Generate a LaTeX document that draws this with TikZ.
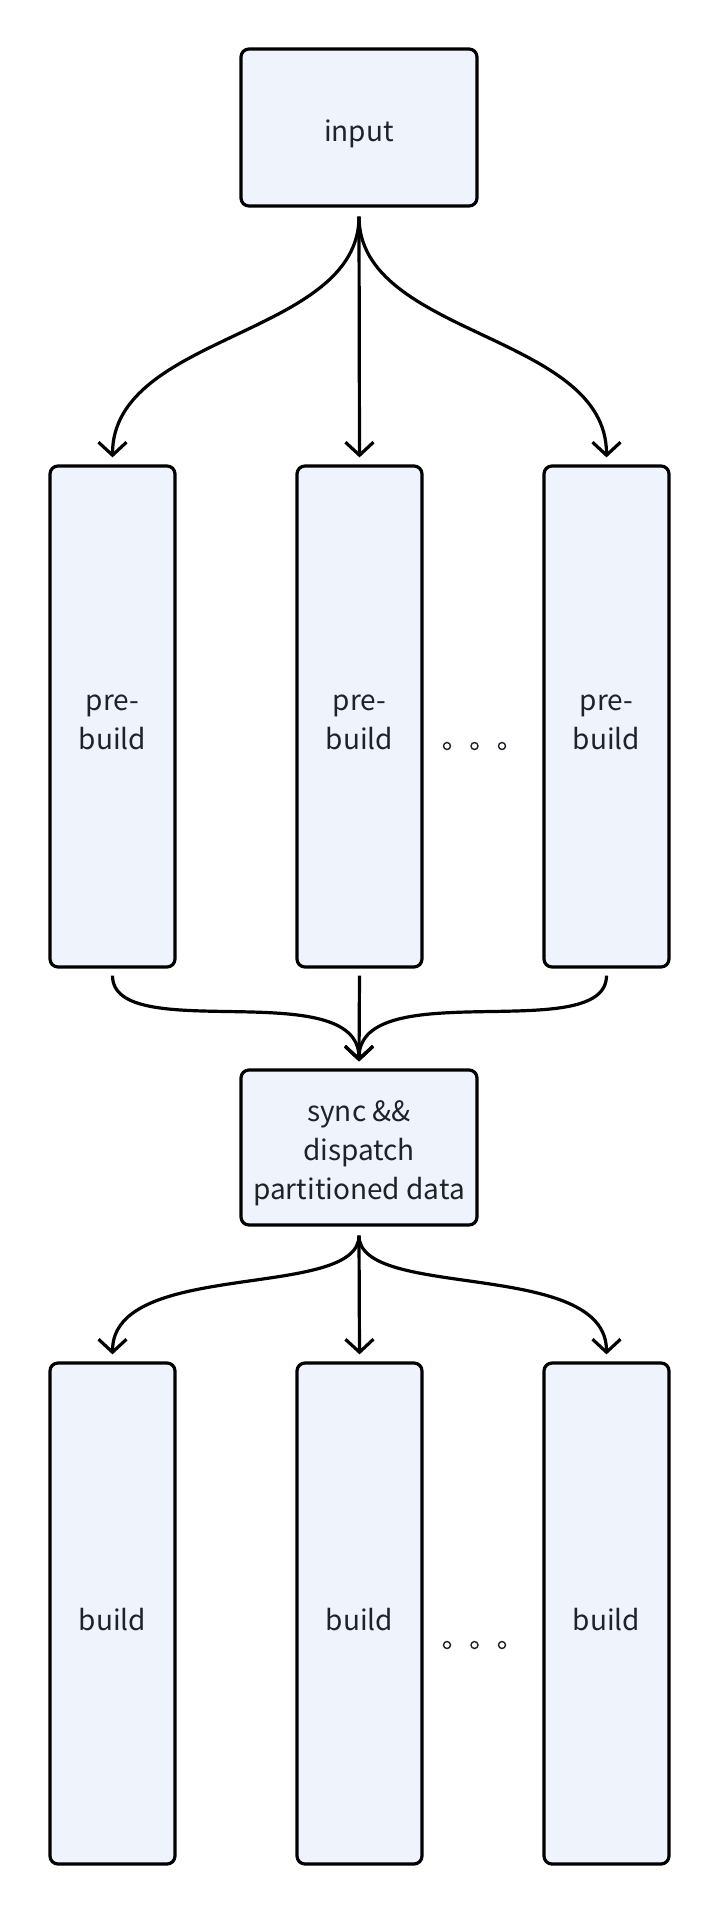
\documentclass[tikz,border=0pt]{standalone}
\usepackage{fontspec}
\newfontfamily\cjk{Noto Sans CJK SC}
\usetikzlibrary{arrows.meta}
\definecolor{boxfill}{HTML}{EFF3FB}
\definecolor{txt}{HTML}{1F2329}
\tikzset{
  box/.style={draw=black, line width=3.2pt, rounded corners=8pt, fill=boxfill, inner sep=0pt},
  lbl/.style={text=txt, font=\cjk\fontsize{28}{39}\selectfont, align=center, inner sep=0pt, yshift=-6pt},
  txt/.style={label={[lbl]center:{#1}}},
  conn/.style={draw=black, line width=3.2pt, -{Straight Barb[length=13pt,width=28pt,line width=3.2pt]}},
  dot/.style={draw=txt, line width=1.4pt, circle, minimum size=7pt, inner sep=0pt},
}
\begin{document}
\begin{tikzpicture}[x=1pt,y=-1pt]
\fill[white] (0,0) rectangle (720,1918);
\useasboundingbox (0,0) rectangle (720,1918);

\node[box, minimum width=236pt, minimum height=157pt, txt={input}] (in) at (359,127.5) {};

\node[box, minimum width=125pt, minimum height=501pt, txt={pre-\\build}] (p1) at (112.5,716.5) {};
\node[box, minimum width=125pt, minimum height=501pt, txt={pre-\\build}] (p2) at (359.5,716.5) {};
\node[box, minimum width=125pt, minimum height=501pt, txt={pre-\\build}] (p3) at (606.5,716.5) {};

\node[box, minimum width=236pt, minimum height=155pt, txt={sync \&\&\\dispatch\\partitioned data}] (sy) at (359,1147.5) {};

\node[box, minimum width=125pt, minimum height=501pt, txt={build}] (b1) at (112.5,1613.5) {};
\node[box, minimum width=125pt, minimum height=501pt, txt={build}] (b2) at (359.5,1613.5) {};
\node[box, minimum width=125pt, minimum height=501pt, txt={build}] (b3) at (606.5,1613.5) {};

\node[dot] (d1) at (447,746) {};
\node[dot] (d2) at (474.5,746) {};
\node[dot] (d3) at (502,746) {};
\node[dot] (e1) at (447,1645) {};
\node[dot] (e2) at (474.5,1645) {};
\node[dot] (e3) at (502,1645) {};

% input -> pre-build
\coordinate (inS) at ([yshift=-9pt]in.south);
\coordinate (p1N) at ([yshift=7pt]p1.north);
\coordinate (p2N) at ([yshift=7pt]p2.north);
\coordinate (p3N) at ([yshift=7pt]p3.north);
\draw[conn] (inS) .. controls ([yshift=-120pt]inS) and ([yshift=124pt]p1N) .. (p1N);
\draw[conn] (inS) -- (p2N);
\draw[conn] (inS) .. controls ([yshift=-120pt]inS) and ([yshift=124pt]p3N) .. (p3N);

% pre-build -> sync
\coordinate (syN) at ([yshift=7pt]sy.north);
\coordinate (p1S) at ([yshift=-7pt]p1.south);
\coordinate (p2S) at ([yshift=-7pt]p2.south);
\coordinate (p3S) at ([yshift=-7pt]p3.south);
\draw[conn] (p1S) .. controls ([yshift=-71pt]p1S) and ([yshift=88pt]syN) .. (syN);
\draw[conn] (p2S) -- (syN);
\draw[conn] (p3S) .. controls ([yshift=-71pt]p3S) and ([yshift=88pt]syN) .. (syN);

% sync -> build
\coordinate (syS) at ([yshift=-9pt]sy.south);
\coordinate (b1N) at ([yshift=7pt]b1.north);
\coordinate (b2N) at ([yshift=7pt]b2.north);
\coordinate (b3N) at ([yshift=7pt]b3.north);
\draw[conn] (syS) .. controls ([yshift=-65pt]syS) and ([yshift=96pt]b1N) .. (b1N);
\draw[conn] (syS) -- (b2N);
\draw[conn] (syS) .. controls ([yshift=-65pt]syS) and ([yshift=96pt]b3N) .. (b3N);
\end{tikzpicture}
\end{document}
